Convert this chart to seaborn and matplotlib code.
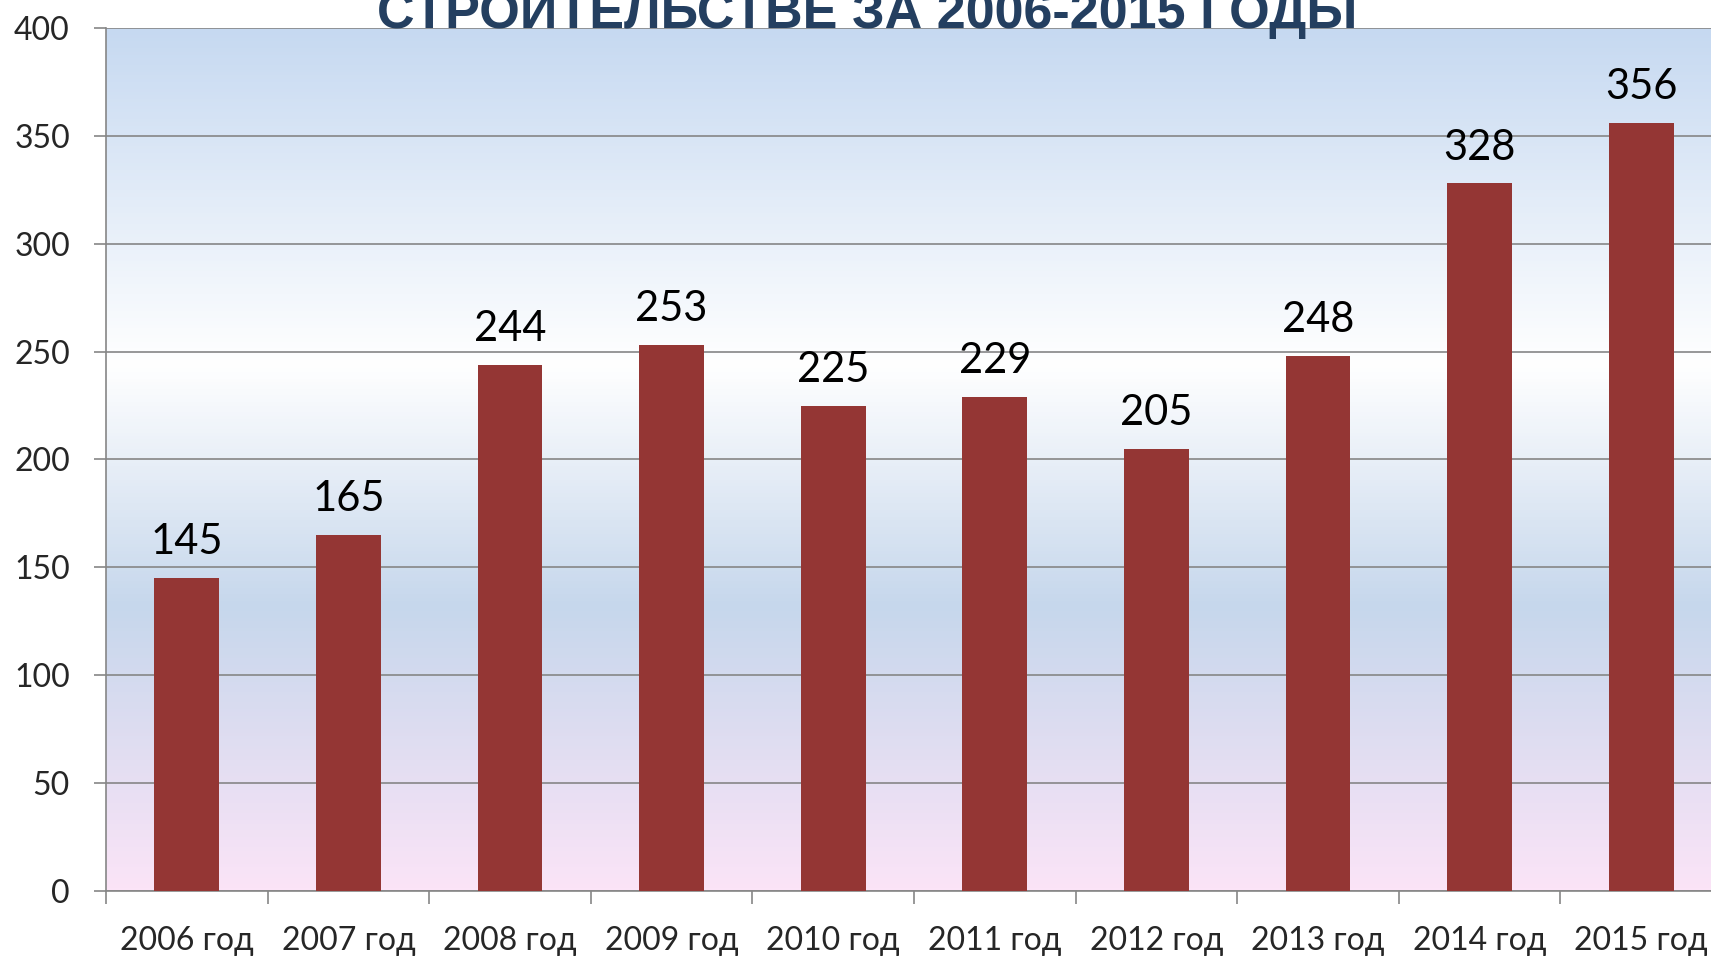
import numpy as np
import matplotlib
matplotlib.use("Agg")
import matplotlib.pyplot as plt
from matplotlib.colors import LinearSegmentedColormap
import seaborn as sns

years = ["2006 год", "2007 год", "2008 год", "2009 год", "2010 год",
         "2011 год", "2012 год", "2013 год", "2014 год", "2015 год"]
values = [145, 165, 244, 253, 225, 229, 205, 248, 328, 356]
title = "СТРОИТЕЛЬСТВЕ ЗА 2006-2015 ГОДЫ"

sns.set_theme(style="white")
plt.rcParams['font.family'] = ['Lato', 'DejaVu Sans']

fig = plt.figure(figsize=(17.11, 9.59), dpi=100)
ax = fig.add_axes([106 / 1711, 68 / 959, 1616 / 1711, 863 / 959])

# background gradient (bottom -> top)
bg = LinearSegmentedColormap.from_list(
    "bg", [(0.0, "#fbe4f7"), (0.33, "#c6d7ec"), (0.61, "#ffffff"), (1.0, "#c6d9f1")])
grad = np.linspace(0, 1, 256).reshape(-1, 1)
ax.imshow(grad, cmap=bg, origin="lower", aspect="auto",
          extent=(-0.5, 9.5, 0, 400), zorder=0)

sns.barplot(x=years, y=values, color="#943634", width=0.4, saturation=1,
            linewidth=0, ax=ax, zorder=3)
ax.bar_label(ax.containers[0], labels=[str(v) for v in values],
             padding=12, fontsize=30, color="black")

ax.set_xlim(-0.5, 9.5)
ax.set_ylim(0, 400)
ax.set_yticks(range(0, 401, 50))
ax.tick_params(axis="y", labelsize=23, length=9, width=1.2, color="#868686",
               pad=17, left=True)
ax.set_xticks(np.arange(-0.5, 10, 1), labels=[""] * 11)
ax.set_xticks(range(10), labels=years, minor=True)
ax.tick_params(axis="x", which="major", length=9, width=1.2, color="#868686",
               bottom=True)
ax.tick_params(axis="x", which="minor", length=0, labelsize=23, pad=25)
ax.grid(axis="y", color="#868686", linewidth=1.2, zorder=1)
ax.set_axisbelow(True)
ax.set_xlabel("")
ax.set_ylabel("")
for side in ["top", "right"]:
    ax.spines[side].set_visible(False)
for side in ["left", "bottom"]:
    ax.spines[side].set_color("#868686")
    ax.spines[side].set_linewidth(1.2)

# title line is cut by the top edge, as in the source slide
fig.text(0.507, 1 - 28 / 959, title, ha="center", va="baseline",
         fontsize=37.5, fontweight="bold", color="#243f60",
         family=["Liberation Sans Narrow", "Liberation Sans", "DejaVu Sans"])

fig.savefig("out.png", dpi=100)
